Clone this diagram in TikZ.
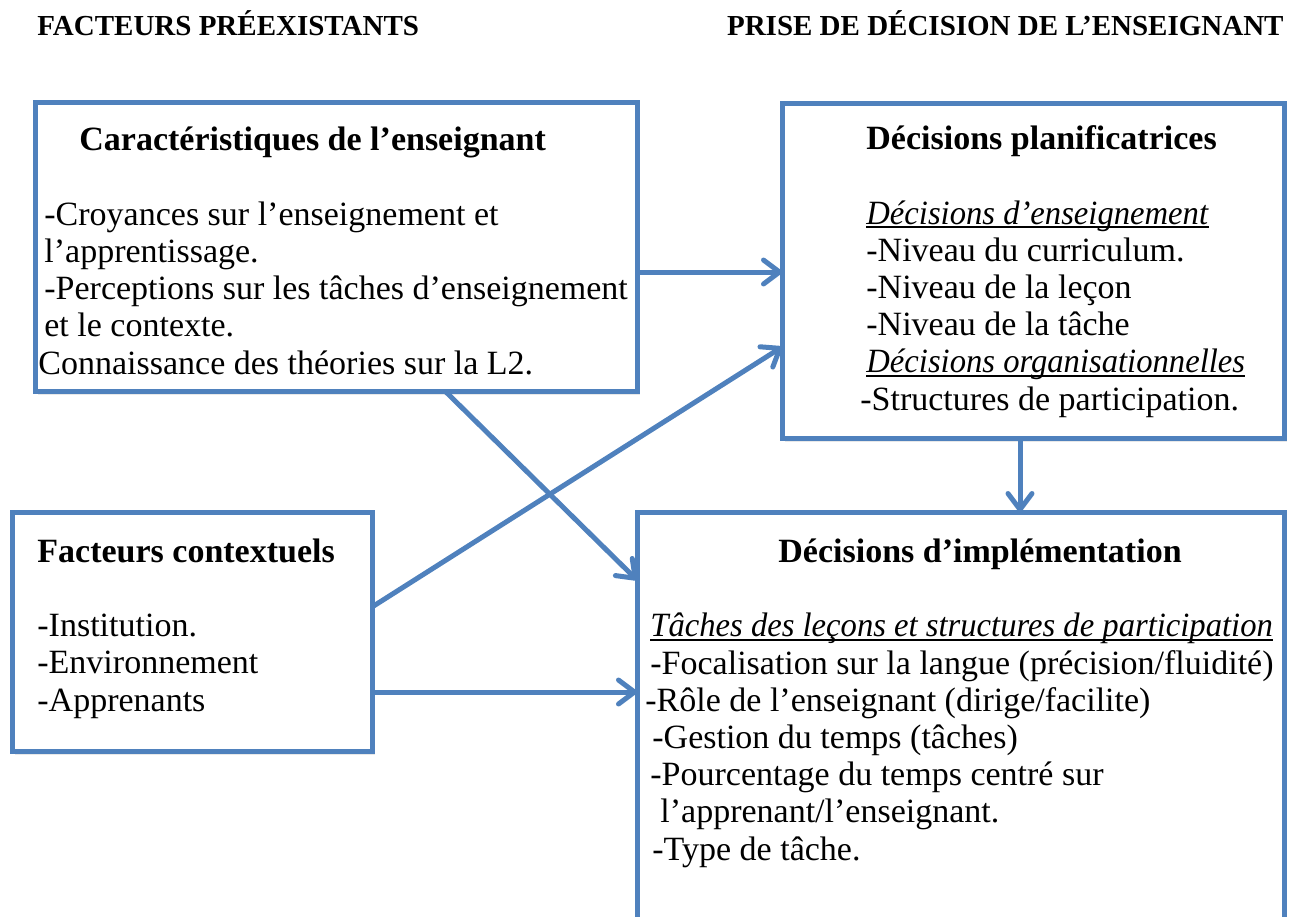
\documentclass[tikz,border=0pt]{standalone}
\usepackage{fontspec}
\setmainfont{Liberation Serif}[ItalicFeatures={FakeStretch=0.96}]
\usetikzlibrary{arrows.meta,shadows}

\definecolor{boxblue}{RGB}{79,129,189}

% italic heading underlined close to the baseline
\newlength\ulitwidth
\newcommand\ulit[1]{\settowidth\ulitwidth{\textit{#1}}%
  \textit{#1}\llap{\rule[-2pt]{\ulitwidth}{0.8pt}}}

\tikzset{
  box/.style={draw=boxblue, line width=2.5pt, fill=white, rectangle,
    inner sep=0pt, outer sep=0pt, anchor=north west,
    drop shadow={shadow xshift=1.5pt, shadow yshift=-2pt, opacity=0.18}},
  arr/.style={draw=boxblue, line width=2.5pt,
    -{Straight Barb[round, length=8pt, width=12pt]}},
  head/.style={font=\fontsize{14.5}{17}\selectfont\bfseries, inner sep=0pt},
  title/.style={font=\fontsize{17}{18.6}\selectfont\bfseries,
    inner sep=0pt, anchor=base west},
  % base anchor of a multi-line node sits on its last line
  body/.style={font=\fontsize{17}{18.6}\selectfont, inner sep=0pt,
    anchor=base west, align=left}
}

\begin{document}
\begin{tikzpicture}[x=0.5pt,y=-0.5pt]
  \useasboundingbox (0,0) rectangle (1298,917);

  % column headings
  \node [head, anchor=base west] (hleft) at (37,35) {FACTEURS PRÉEXISTANTS};
  \node [head, anchor=base east] (hright) at (1284,35) {PRISE DE DÉCISION DE L’ENSEIGNANT};

  % boxes
  \node [box, minimum width=301pt, minimum height=144.5pt] (carac) at (35,102) {};
  \node [box, minimum width=251pt, minimum height=167.5pt] (planif) at (782,103) {};
  \node [box, minimum width=180pt, minimum height=119.5pt] (ctx) at (12,512) {};
  \node [box, minimum width=323.5pt, minimum height=204pt] (impl) at (637,512) {};

  % box contents
  \node [title] (caractitle) at (79,150) {Caractéristiques de l’enseignant};
  \node [body] (caractext) at (44,374) {
    -Croyances sur l’enseignement et\\
    l’apprentissage.\\
    -Perceptions sur les tâches d’enseignement\\
    et le contexte.\\
    \hspace*{-3pt}Connaissance des théories sur la L2.
  };
  \node [title] (planiftitle) at (866,149) {Décisions planificatrices};
  \node [body] (planiftext) at (866,410) {
    \ulit{Décisions d’enseignement}\\
    -Niveau du curriculum.\\
    -Niveau de la leçon\\
    -Niveau de la tâche\\
    \ulit{Décisions organisationnelles}\\
    \hspace*{-3pt}-Structures de participation.
  };
  \node [title] (ctxtitle) at (37,562) {Facteurs contextuels};
  \node [body] (ctxtext) at (37,711) {
    -Institution.\\
    -Environnement\\
    -Apprenants
  };
  \node [title] (impltitle) at (778,562) {Décisions d’implémentation};
  \node [body] (impltext) at (650,860) {
    \ulit{Tâches des leçons et structures de participation}\\
    -Focalisation sur la langue (précision/fluidité)\\
    \hspace*{-2.5pt}-Rôle de l’enseignant (dirige/facilite)\\
    \hspace*{1pt}-Gestion du temps (tâches)\\
    -Pourcentage du temps centré sur\\
    \hspace*{5pt}l’apprenant/l’enseignant.\\
    \hspace*{1pt}-Type de tâche.
  };

  % connectors
  \draw [arr] (carac.east |- 0,272) -- (planif.west |- 0,272);
  \draw [arr] (ctx.east |- 0,607) -- (planif.west |- 0,347);
  \draw [arr] (carac.south -| 445,0) -- (impl.west |- 0,580);
  \draw [arr] (ctx.east |- 0,692) -- (impl.west |- 0,692);
  \draw [arr] (planif.south -| 1020,0) -- (impl.north -| 1020,0);
\end{tikzpicture}
\end{document}
